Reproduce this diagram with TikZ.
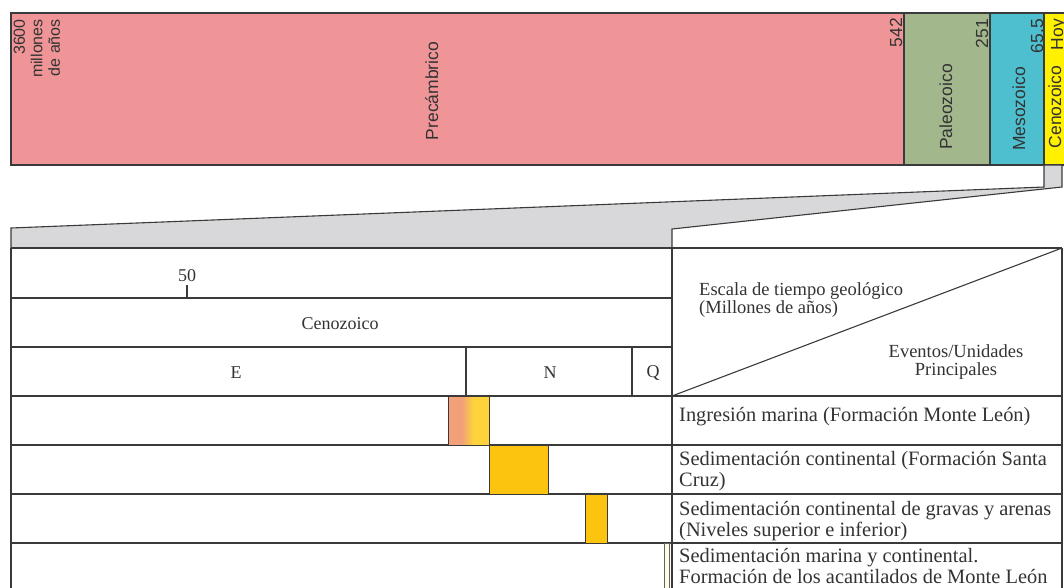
\documentclass[tikz,border=0pt]{standalone}
\usepackage{fontspec}
\setmainfont{Liberation Serif}
\newfontfamily\arialf{Liberation Sans}
\definecolor{pre}{HTML}{F09597}
\definecolor{pal}{HTML}{A3B78D}
\definecolor{mes}{HTML}{4EBFCE}
\definecolor{cen}{HTML}{FFF100}
\definecolor{gr}{HTML}{D8D8DA}
\definecolor{lc}{HTML}{3A3A3A}
\definecolor{tc}{HTML}{333333}
\definecolor{salm}{HTML}{F2A07A}
\definecolor{yel}{HTML}{FDD23A}
\definecolor{gold}{HTML}{FDC40F}
\definecolor{cream}{HTML}{FFFBE0}
\begin{document}
\begin{tikzpicture}[x=1pt,y=-1pt,
  bd/.style={draw=lc,line width=1.1pt},
  sanslab/.style={font=\arialf\fontsize{17.5}{17.5}\selectfont, text=tc, rotate=90, inner sep=0pt},
  tab/.style={font=\fontsize{18}{18}\selectfont, text=tc, inner sep=0pt},
  hdr/.style={font=\fontsize{18.5}{18.5}\selectfont, text=tc, inner sep=0pt},
  ev/.style={font=\fontsize{20.4}{20.5}\selectfont, text=tc, inner sep=0pt, align=left, anchor=north west},
  bar/.style={draw=lc, line width=0.9pt},
]
\useasboundingbox (0,0) rectangle (1064,587);
% top time bar
\fill[pre] (11,13) rectangle (904,165);
\fill[pal] (904,13) rectangle (990,165);
\fill[mes] (990,13) rectangle (1044,165);
\fill[cen] (1044,13) rectangle (1080,165);
\draw[bd] (1080,13) -- (11,13) -- (11,165) -- (1080,165);
\draw[bd] (904,13) -- (904,165) (990,13) -- (990,165) (1044,13) -- (1044,165);
% zoom connector
\filldraw[bd, fill=gr] (1044,165) -- (1044,187) -- (11,228) -- (11,248) -- (672,248) -- (672,229) -- (1062,187) -- (1062,165) -- cycle;
% tables
\draw[bd] (11,248) -- (11,600);
\draw[bd] (672,248) -- (672,600);
\draw[bd] (1062,248) -- (1062,600);
\draw[bd] (11,248) -- (1062,248);
\draw[bd] (11,298) -- (672,298);
\draw[bd] (11,347) -- (672,347);
\draw[bd] (11,396) -- (1062,396);
\draw[bd] (11,445) -- (1062,445);
\draw[bd] (11,494) -- (1062,494);
\draw[bd] (11,543) -- (1062,543);
\draw[bd] (466,347) -- (466,396);
\draw[bd] (632,347) -- (632,396);
\draw[bd] (187,285) -- (187,298);
\draw[bd] (672,396) -- (1062,248);
% bars
\fill[salm] (448,396) rectangle (462,445);
\shade[left color=salm, right color=yel] (462,396) rectangle (473,445);
\fill[yel] (473,396) rectangle (489,445);
\draw[bar] (448,396) rectangle (489,445);
\filldraw[bar, fill=gold] (489,445) rectangle (548,494);
\filldraw[bar, fill=gold] (585,494) rectangle (607,543);
\filldraw[bar, fill=cream, draw=lc!80] (664,543) rectangle (669,600);
% top labels
\node[sanslab, anchor=north east, align=right, font=\arialf\fontsize{16}{17.5}\selectfont] (t3600) at (13.5,19) {3600\\millones\\de años};
\node[sanslab, anchor=base] (tpre) at (438,91) {Precámbrico};
\node[sanslab, anchor=base east] (t542) at (902,18) {542};
\node[sanslab, anchor=base] (tpal) at (952,107) {Paleozoico};
\node[sanslab, anchor=base east] (t251) at (988,19) {251};
\node[sanslab, anchor=base] (tmes) at (1025,109) {Mesozoico};
\node[sanslab, anchor=base east] (t655) at (1043,19) {65.5};
\node[sanslab, anchor=base] (tcen) at (1061,107) {Cenozoico};
\node[sanslab, anchor=base east] (thoy) at (1063,19) {Hoy};
% left table labels
\node[tab] (l50) at (187,276) {50};
\node[tab] (lcen) at (340,324) {Cenozoico};
\node[tab] (lE) at (236,373) {E};
\node[tab] (lN) at (550,373) {N};
\node[tab] (lQ) at (653,373) {Q};
% header
\node[hdr, align=left, anchor=north west] (hesc) at (699,282) {Escala de tiempo geológico\\(Millones de años)};
\node[hdr, align=center, anchor=north] (hev) at (956,344) {Eventos/Unidades\\Principales};
% events
\node[ev] (e1) at (679,407) {Ingresión marina (Formación Monte León)};
\node[ev] (e2) at (679,451.5) {Sedimentación continental (Formación Santa\\Cruz)};
\node[ev] (e3) at (679,501.5) {Sedimentación continental de gravas y arenas\\(Niveles superior e inferior)};
\node[ev] (e4) at (679,548.5) {Sedimentación marina y continental.\\Formación de los acantilados de Monte León};
\end{tikzpicture}
\end{document}
